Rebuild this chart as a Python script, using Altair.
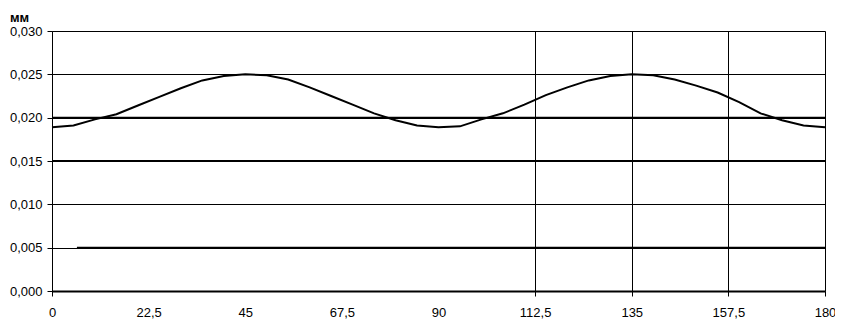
import altair as alt
import pandas as pd

angles = [0, 5, 10, 15, 20, 25, 30, 35, 40, 45, 50, 55, 60, 65, 70, 75, 80, 85, 90,
          95, 100, 105, 110, 115, 120, 125, 130, 135, 140, 145, 150, 155, 160, 165, 170, 175, 180]
profile = [0.0189, 0.0191, 0.0198, 0.0204, 0.0214, 0.0224, 0.0234, 0.0243, 0.0248, 0.0250,
           0.0249, 0.0244, 0.0235, 0.0225, 0.0215, 0.0205, 0.0197, 0.0191, 0.0189,
           0.0190, 0.0198, 0.0205, 0.0215, 0.0226, 0.0235, 0.0243, 0.0248, 0.0250,
           0.0249, 0.0244, 0.0237, 0.0229, 0.0218, 0.0205, 0.0197, 0.0191, 0.0189]

# horizontal reference levels (start, end, level)
ref_start = [0, 0, 5.8]
ref_end = [180, 180, 180]
ref_level = [0.020, 0.015, 0.005]

x_ticks = [0, 22.5, 45, 67.5, 90, 112.5, 135, 157.5, 180]
y_ticks = [0.000, 0.005, 0.010, 0.015, 0.020, 0.025, 0.030]
x_grid = [0, 112.5, 135, 157.5, 180]

curve = pd.DataFrame({"a": angles, "v": profile})
refs = pd.DataFrame({"a": ref_start, "a2": ref_end, "v": ref_level})

grid_expr = "indexof([" + ",".join(str(g) for g in x_grid) + "], datum.value) >= 0 ? 1 : 0"

x_enc = alt.X("a:Q", scale=alt.Scale(domain=[0, 180], nice=False, zero=False),
              axis=alt.Axis(values=x_ticks, title=None,
                            labelExpr="replace(toString(datum.value), '.', ',')",
                            grid=True, gridColor="black", gridWidth=1,
                            gridOpacity=alt.expr(grid_expr),
                            tickOpacity=alt.expr(grid_expr),
                            ticks=True, tickSize=5, tickColor="black", tickWidth=1,
                            domainColor="black", domainWidth=2,
                            labelColor="black", labelFont="Liberation Sans",
                            labelFontSize=13, labelPadding=10, labelFlush=False))
y_enc = alt.Y("v:Q", scale=alt.Scale(domain=[0, 0.030], nice=False),
              axis=alt.Axis(values=y_ticks, title=None,
                            labelExpr="replace(format(datum.value, '.3f'), '.', ',')",
                            grid=True, gridColor="black", gridWidth=1, gridOpacity=1,
                            ticks=True, tickSize=5, tickColor="black", tickWidth=1,
                            domainColor="black", domainWidth=1,
                            labelColor="black", labelFont="Liberation Sans",
                            labelFontSize=13, labelPadding=5, labelFlush=False))

line = alt.Chart(curve).mark_line(color="black", strokeWidth=2).encode(x=x_enc, y=y_enc)
rules = alt.Chart(refs).mark_rule(color="black", strokeWidth=2).encode(
    x=alt.X("a:Q"), x2="a2:Q", y=alt.Y("v:Q"))

chart = alt.layer(line, rules).properties(
    width=773, height=260,
    autosize=alt.AutoSizeParams(type="none"),
    padding={"left": 44, "top": 23, "right": 10, "bottom": 30},
    title=alt.TitleParams("мм", anchor="start", frame="group", dx=-42, dy=4,
                          fontSize=13, fontWeight="bold", font="Liberation Sans",
                          color="black", offset=4),
).configure_view(stroke=None).configure(background="white")

chart.save("out.html", embed_options={"renderer": "svg", "actions": False})
